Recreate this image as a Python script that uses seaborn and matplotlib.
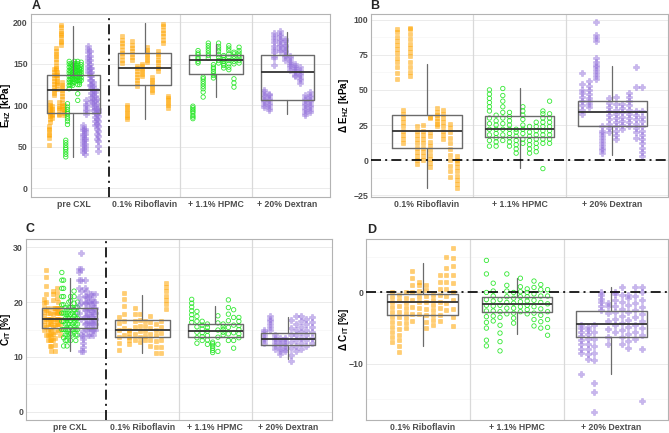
import numpy as np
import pandas as pd
import matplotlib
matplotlib.use("Agg")
import matplotlib.pyplot as plt
import seaborn as sns

# ---- data: one list per eye (strip) ----
groups_all = ["pre CXL", "0.1% Riboflavin", "+ 1.1% HPMC", "+ 20% Dextran"]
groups_delta = ["0.1% Riboflavin", "+ 1.1% HPMC", "+ 20% Dextran"]

# A: E_HZ [kPa]
a_pre_orange = [[52, 61, 64, 66, 70, 72, 75], [80, 83, 87, 90, 92, 95, 98, 101, 104],
                [85, 88, 90, 93, 96, 99], [112, 115, 119, 122, 126, 129, 133, 137, 140, 144],
                [137, 142, 145, 148, 152, 156, 159, 162, 166, 169], [120, 124, 127, 129, 133, 136, 140],
                [88, 90, 94, 97, 99, 104], [173, 176, 178, 182, 185, 187, 190, 194, 197],
                [96, 99, 103, 108, 111, 115, 118, 122, 125, 128], [88, 91, 93, 96, 100]]
a_pre_green = [[38, 41, 44, 47, 49, 52, 55, 58], [77, 81, 84, 87, 90, 92, 95, 98, 102],
               [120, 124, 128, 131, 135, 139, 142, 146, 150, 153], [125, 128, 132, 135, 138, 141, 144, 147, 150],
               [124, 127, 131, 134, 137, 140, 144, 148], [128, 131, 135, 138, 141, 144, 147, 150, 153],
               [130, 133, 136, 139, 142, 145, 148, 150], [106, 114, 125, 130, 134, 138, 142, 146, 150, 153],
               [125, 128, 131, 134, 137, 140, 143, 145], [130, 133, 137, 140, 143, 146, 149, 152]]
a_pre_purple = [[44, 48, 52, 56, 60, 63, 66, 70, 73, 76], [42, 46, 50, 54, 58, 61, 65, 69, 72],
                [90, 93, 96, 99, 102, 106], [140, 144, 148, 152, 156, 160, 164, 168, 171],
                [125, 130, 135, 139, 145, 150, 155, 160, 165], [105, 110, 115, 121, 125, 130, 135, 140, 145],
                [95, 99, 103, 107, 111, 115, 119, 124, 128], [76, 81, 86, 91, 96, 101, 106, 111, 116, 120],
                [60, 66, 72, 78, 84, 90, 96, 102, 108], [45, 51, 57, 63, 69, 75, 81, 87, 92, 96]]
a_ribo = [[151, 155, 159, 163, 167, 171, 175, 179, 184], [83, 86, 89, 92, 95, 98, 101],
          [155, 158, 162, 165, 169, 173, 177], [123, 127, 130, 134, 138, 141, 145, 148],
          [135, 138, 141, 144, 147, 150], [152, 155, 158, 161, 164, 167, 170],
          [116, 119, 122, 125, 128, 131, 134], [141, 145, 148, 152, 155, 159, 162, 166],
          [175, 179, 183, 187, 191, 195, 198], [97, 100, 103, 106, 109, 111]]
a_hpmc = [[84, 86, 88, 91, 93, 95, 97, 99], [151, 153, 156, 158, 161, 163, 166],
          [110, 116, 120, 123, 126, 129, 132, 134], [157, 160, 163, 166, 169, 172, 175],
          [133, 136, 138, 141, 144, 146, 149], [151, 154, 158, 161, 165, 168, 171, 175],
          [145, 148, 150, 153, 155, 158, 160], [143, 146, 150, 154, 158, 162, 166, 169, 172],
          [122, 127, 132, 150, 153, 156, 159, 162, 164], [151, 154, 157, 160, 163, 166, 170]]
a_dex = [[98, 101, 104, 107, 110, 113, 116, 118], [94, 97, 100, 103, 106, 109, 112, 114],
         [149, 157, 160, 164, 168, 172, 176, 180, 184, 187], [165, 168, 171, 174, 177, 180, 183, 186, 190],
         [155, 158, 161, 164, 167, 170, 173, 177, 180], [143, 146, 149, 151, 154, 157, 160],
         [135, 137, 140, 143, 145, 148, 150], [127, 130, 133, 136, 139, 142, 146],
         [88, 91, 94, 97, 100, 103, 106, 109, 112], [92, 95, 98, 101, 104, 107, 110, 113, 116]]
a_q1 = [91, 125, 138, 107]
a_med = [119, 145, 155, 140]
a_q3 = [136, 163, 161, 161]
a_lo = [38, 84, 110, 90]
a_hi = [195, 199, 174, 188]

# B: delta E_HZ [kPa]
b_ribo = [[58, 62, 66, 70, 73, 76, 79, 82, 85, 88, 91, 93], [12, 15, 18, 21, 24, 27, 30, 33, 36],
          [60, 63, 66, 70, 74, 77, 80, 83, 86, 90, 93, 94], [-3, 0, 3, 6, 9, 12, 15, 18, 21, 24],
          [0, 3, 6, 9, 12, 15, 18, 21, 25], [-5, -2, 1, 4, 7, 10, 13, 17, 20, 30, 31],
          [24, 26, 28, 30, 32, 34, 37], [15, 18, 21, 24, 27, 30, 33, 36],
          [-12, -8, -4, 0, 4, 8, 12, 16, 20, 23, 26], [-20, -17, -14, -11, -8, -5, -2, 0, 3]]
b_hpmc = [[10, 14, 18, 22, 26, 30, 35, 38, 41, 44, 47, 50], [10, 13, 16, 19, 22, 25, 28, 32],
          [14, 18, 22, 26, 30, 34, 38, 42, 46, 51], [10, 13, 16, 19, 22, 25, 28, 31, 34],
          [5, 8, 11, 14, 17, 20, 22], [12, 15, 19, 22, 25, 29, 32, 35, 38],
          [5, 8, 11, 14, 17, 20, 24], [6, 9, 12, 15, 18, 21, 24, 27],
          [-6, 12, 15, 18, 21, 24, 27, 30, 33, 35], [12, 15, 18, 21, 24, 27, 30, 33, 42]]
b_dex = [[33, 36, 39, 42, 45, 48, 50, 54, 62], [38, 40, 42, 44, 47, 50, 53, 56],
         [58, 60, 62, 64, 66, 68, 70, 73, 85, 87, 89, 98], [5, 7, 9, 11, 13, 15, 17, 19, 21, 24],
         [20, 23, 26, 29, 32, 35, 38, 41, 44], [15, 18, 21, 24, 27, 30, 33, 36, 40, 45],
         [22, 25, 28, 31, 34, 37, 40], [24, 27, 30, 33, 36, 39, 42, 45, 48],
         [16, 20, 23, 26, 29, 32, 35, 52, 66], [3, 6, 9, 12, 15, 18, 21, 24, 28, 31, 35, 52]]
b_q1 = [8.7, 16.5, 24.3]
b_med = [20.5, 22.4, 34.5]
b_q3 = [32.4, 31.7, 41.9]
b_lo = [-19.8, -5.3, 3.5]
b_hi = [68.7, 51.4, 66.8]

# C: C_IT [%]
c_pre_orange = [[15, 15.8, 16.6, 17.4, 18.2, 19, 19.8, 20.5], [14, 15.5, 17, 18.5, 20, 21.5, 23, 24.5, 25.8],
                [13, 14, 15, 16, 17, 18, 19], [12, 13, 14, 15, 16, 17, 18], [11, 12, 13, 14, 15, 16, 17],
                [13, 14.2, 15.4, 16.6, 17.8, 19, 20.3, 21.5, 22], [11, 12.2, 13.4, 14.6, 15.8, 17, 18.2, 19],
                [16, 17, 18, 19, 20.8, 21.7, 22.5], [15, 16, 17, 18, 19, 20], [14, 15, 16, 17, 18, 19]]
c_pre_green = [[15, 16.5, 18, 19.5, 21, 22.5, 24, 25.4], [12, 13.5, 15, 16.5, 18, 19.5, 21, 22.5, 24],
               [13, 14, 15, 16, 17, 18, 19], [12, 13, 14, 15, 16, 17, 18], [14, 15, 16, 17, 18, 19, 20],
               [13, 14.2, 15.4, 16.6, 17.8, 19, 20.2, 21], [14, 15, 16, 17, 18, 19],
               [15, 16.2, 17.4, 18.6, 19.8, 21, 22], [13, 14, 15, 16, 17, 18, 19], [14, 15, 16, 17, 18, 19, 20]]
c_pre_purple = [[18, 19.5, 21, 22.5, 24, 25.5, 26], [11, 14, 17, 20, 22, 24, 26, 29],
                [11.1, 11.8, 12.5, 13.2, 13.9, 14.7], [16, 17.3, 18.6, 19.9, 21.2, 22.5, 24],
                [15, 16.2, 17.4, 18.6, 19.8, 21, 22], [14, 15.2, 16.4, 17.6, 18.8, 20, 21],
                [14, 15.2, 16.4, 17.6, 18.8, 20, 21.5], [15, 16.1, 17.2, 18.3, 19.4, 20.5, 21.5],
                [14, 15, 16, 17, 18, 19, 20], [15, 16, 17, 18, 19, 20, 21.5]]
c_ribo = [[11.3, 12.5, 13.7, 14.9, 16.1, 17.3], [14, 15.3, 16.6, 17.9, 19.2, 20.5, 21.7],
          [12.3, 13, 13.7, 14.4, 15], [13, 14.2, 15.4, 16.6, 17.8, 19], [12.7, 13.7, 14.7, 15.7, 16.8, 17.8],
          [13, 13.8, 14.7, 15.6, 16.5], [12, 13.1, 14.2, 15.3, 16.4, 17.5], [10.7, 11.8, 12.9, 14, 15, 16],
          [10.7, 11.9, 13.1, 14.3, 15.5, 16.5], [18.8, 19.6, 20.4, 21.2, 22, 22.7, 23.4]]
c_hpmc = [[16.3, 17, 17.7, 18.4, 19.1, 19.8, 20.5], [12.5, 13.5, 14.5, 15.5, 16.5, 17.4, 18.3],
          [13, 13.7, 14.4, 15.1, 15.8, 16.5], [12.3, 13.1, 13.9, 14.7, 15.4, 16],
          [10.8, 11.2, 11.6, 12, 12.4, 12.7], [11, 12.3, 13.6, 14.9, 16.2, 17.5], [14, 14.5, 15, 15.5, 16],
          [13, 14.2, 15.4, 16.6, 17.8, 19, 20.4], [11.6, 13, 14.4, 15.8, 17.2, 18.6],
          [13.5, 14.2, 15, 15.7, 16.5, 17.2]]
c_dex = [[12.5, 13, 13.5, 14, 14.5, 15], [15, 15.5, 16, 16.5, 17, 17.4], [11.5, 12, 12.5, 13, 13.5, 14],
         [10.5, 11.1, 11.7, 12.3, 12.9, 13.5], [11, 11.5, 12, 12.5, 13, 13.5],
         [9.2, 10.4, 11.6, 12.8, 14, 15.2, 16.8], [11, 12, 13, 14, 15, 16, 17.5],
         [11.5, 12.5, 13.5, 14.5, 15.5, 16.5, 17.5], [12, 13, 14, 15, 16, 17], [12.5, 13.5, 14.5, 15.5, 16.4, 17.3]]
c_q1 = [15.2, 13.7, 13.6, 12.2]
c_med = [17.0, 14.9, 14.8, 13.25]
c_q3 = [19.0, 16.8, 16.0, 14.3]
c_lo = [11.1, 10.8, 13.6, 9.6]
c_hi = [24.4, 21.3, 19.2, 17.2]

# D: delta C_IT [%]
d_ribo = [[-7, -6.3, -5.6, -4.9, -4.2, -3.5, -2.8, -2.1, -1.4, -0.7, 0],
          [-8.3, -7.5, -6.7, -5.9, -5.1, -4.3, -3.5, -2.7, -1.9, -1.1, -0.3],
          [-5, -4.3, -3.6, -2.9, -2.2, -1.5, -0.8, 0], [-4, -3, -2, -1, 0, 1, 2, 3],
          [-3, -2.2, -1.4, -0.6, 0.2, 1, 1.5], [-5, -4.1, -3.2, -2.3, -1.4, -0.5, 0.4, 1],
          [-4.5, -3.8, -3.1, -2.4, -1.7, -1, -0.3], [-4, -3.1, -2.2, -1.3, -0.4, 0.5, 1.4, 2.5],
          [-2.5, -1.5, -0.5, 0.5, 1.5, 2.5, 3.5, 5], [-4.7, -3.5, -2.3, -1.1, 0.1, 1.3, 2.5, 3.7, 4.9, 6.3]]
d_hpmc = [[-7.5, -6.7, -5, -4.2, -3.4, -2.6, -1.8, -1, 0, 2.6, 4.5], [-4, -3.3, -2.6, -1.9, -1.2, -0.5, 0.2, 1.3],
          [-8.2, -6.9, -5.7, -4.6, -3.5, -2.7, -1.8, -1], [-3, -2.2, -1.4, -0.6, 0.2, 1, 2.6],
          [-4.3, -3.6, -2.9, -2.2, -1.5, -0.8, 0], [-2.7, -2, -1.3, -0.6, 0.1, 0.8, 2],
          [-3, -2.4, -1.8, -1.2, -0.6, 0, 0.5], [-4.7, -3.8, -2.9, -2, -1.1, -0.2, 0.7, 1.6],
          [-5, -4.1, -3.2, -2.3, -1.4, -0.5, 0.4, 1.1], [-6, -4.9, -3.8, -2.7, -1.6, -0.5, 0.4]]
d_dex = [[-11.4, -8.5, -7.9, -7.3, -6.7, -6.1, -5.5, -5, -4.5], [-9.3, -8.6, -7.9, -7.2, -6.5, -5.8, -5.2, -4.8],
         [-16.8, -14, -12.7, -9.5, -8.5, -7.5, -6.5, -5.5, -4.5], [-2.4, -1.9, -1.4, -0.9, -0.4, 0.1],
         [-7.3, -6.2, -5.1, -4, -2.9, -1.9, -1.5], [-5.5, -4.6, -3.7, -2.8, -1.9, -1, -0.2, 0.1],
         [-7.3, -6.3, -5.3, -4.3, -3.3, -2.3, -1.3, -0.3, 0.8], [-7.8, -6.8, -5.8, -4.8, -3.8, -2.8, -1.8, -0.8, -0.4],
         [-6.5, -5.5, -4.5, -3.5, -2.5, -1.5, -0.5, 0.8], [-15.2, -8, -6, -5, -4, -3, -2, -1, 0, 0.7]]
d_q1 = [-3.2, -2.8, -6.3]
d_med = [-1.3, -1.6, -4.4]
d_q3 = [-0.2, -0.6, -2.6]
d_lo = [-7.5, -5.8, -11.5]
d_hi = [4.1, 2.0, 0.8]

# ---- styling ----
ORANGE, GREEN, PURPLE = "#FFA500", "#1EE61E", "#9370DB"
STYLE = {
    "orange": dict(marker="s", color=ORANGE, alpha=0.55, s=9),
    "green": dict(marker="o", color=GREEN, alpha=0.9, s=10),
    "purple": dict(marker="P", color=PURPLE, alpha=0.5, s=13),
}
DASHDOT = (0, (6, 2.5, 1.2, 2.5))

sns.set_theme(style="white")
plt.rcParams["font.family"] = ["Liberation Sans", "DejaVu Sans"]
plt.rcParams["mathtext.fontset"] = "custom"
plt.rcParams["mathtext.rm"] = "Liberation Sans:bold"
plt.rcParams["mathtext.bf"] = "Liberation Sans:bold"


def strip_frame(group_strips):
    # group_strips: list (per group) of list of (kind, strips)
    rows = []
    for gi, parts in enumerate(group_strips):
        flat = [(kind, s) for kind, strips in parts for s in strips]
        n = len(flat)
        step = 0.72 / n
        for si, (kind, vals) in enumerate(flat):
            xpos = gi + (si - (n - 1) / 2) * step
            for v in vals:
                rows.append({"x": xpos, "value": v, "kind": kind})
    return pd.DataFrame(rows)


def draw_panel(ax, group_strips, labels, q1, med, q3, lo, hi, ylim, major, minor, ylabel, pre_sep, label_x):
    df = strip_frame(group_strips)
    for kind in ["orange", "green", "purple"]:
        sub = df[df["kind"] == kind]
        if sub.empty:
            continue
        st = STYLE[kind]
        sns.scatterplot(data=sub, x="x", y="value", ax=ax, marker=st["marker"], color=st["color"],
                        alpha=st["alpha"], s=st["s"], linewidth=0.4, legend=False, zorder=2)
        coll = ax.collections[-1]
        if kind == "green":
            coll.set_facecolor("none")
            coll.set_edgecolor(GREEN)
            coll.set_linewidth(0.6)
        else:
            coll.set_edgecolor(st["color"])

    stats = [dict(q1=a, med=m, q3=b, whislo=l, whishi=h, fliers=[]) for a, m, b, l, h in zip(q1, med, q3, lo, hi)]
    ax.bxp(stats, positions=list(range(len(stats))), widths=0.75, showcaps=False, showfliers=False,
           manage_ticks=False, zorder=3,
           boxprops=dict(color="#6b6b6b", linewidth=1.0),
           whiskerprops=dict(color="#6b6b6b", linewidth=0.9),
           medianprops=dict(color="#333333", linewidth=1.3))

    n = len(labels)
    for b in range(n - 1):
        xb = b + 0.5
        if pre_sep and b == 0:
            ax.axvline(xb, color="black", lw=1.2, ls=DASHDOT, zorder=4)
        else:
            ax.axvline(xb, color="#d9d9d9", lw=0.9, zorder=1)
    if not pre_sep:
        ax.axhline(0, color="black", lw=1.2, ls=DASHDOT, zorder=4)

    ax.set_xlim(-0.6, n - 0.4)
    ax.set_ylim(*ylim)
    ax.set_xticks(range(n))
    ax.set_xticklabels(labels)
    ax.set_yticks(major)
    ax.set_yticks(minor, minor=True)
    ax.grid(axis="y", which="major", color="#e8e8e8", lw=0.6, zorder=0)
    ax.grid(axis="y", which="minor", color="#f3f3f3", lw=0.4, zorder=0)
    ax.grid(axis="x", visible=False)
    ax.set_axisbelow(True)
    ax.set_xlabel("")
    ax.set_ylabel(ylabel, fontsize=7.2, fontweight="bold", color="black")
    ax.yaxis.set_label_coords(label_x, 0.5)
    ax.tick_params(axis="both", which="major", length=1.5, width=0.6, color="#b3b3b3",
                   labelsize=6.3, labelcolor="#4d4d4d", pad=0.6)
    ax.tick_params(axis="both", which="minor", length=0)
    for lab in ax.get_xticklabels() + ax.get_yticklabels():
        lab.set_fontweight("bold")
    for sp in ax.spines.values():
        sp.set_visible(True)
        sp.set_color("#b3b3b3")
        sp.set_linewidth(0.8)


fig = plt.figure(figsize=(6.69, 4.33), dpi=100)
ax_a = fig.add_axes([0.0459, 0.5457, 0.4474, 0.4219])
ax_b = fig.add_axes([0.5546, 0.5457, 0.4439, 0.4219])
ax_c = fig.add_axes([0.0389, 0.0300, 0.4570, 0.4180])
ax_d = fig.add_axes([0.5471, 0.0300, 0.4514, 0.4180])

draw_panel(ax_a,
           [[("orange", a_pre_orange), ("green", a_pre_green), ("purple", a_pre_purple)],
            [("orange", a_ribo)], [("green", a_hpmc)], [("purple", a_dex)]],
           groups_all, a_q1, a_med, a_q3, a_lo, a_hi, (-10, 210),
           [0, 50, 100, 150, 200], [25, 75, 125, 175], r"E$_{\rm HZ}$ [kPa]", True, -0.060)
draw_panel(ax_b, [[("orange", b_ribo)], [("green", b_hpmc)], [("purple", b_dex)]],
           groups_delta, b_q1, b_med, b_q3, b_lo, b_hi, (-26, 104),
           [-25, 0, 25, 50, 75, 100], [-12.5, 12.5, 37.5, 62.5, 87.5], r"Δ E$_{\rm HZ}$ [kPa]", False, -0.067)
draw_panel(ax_c,
           [[("orange", c_pre_orange), ("green", c_pre_green), ("purple", c_pre_purple)],
            [("orange", c_ribo)], [("green", c_hpmc)], [("purple", c_dex)]],
           groups_all, c_q1, c_med, c_q3, c_lo, c_hi, (-1.5, 31.5),
           [0, 10, 20, 30], [5, 15, 25], r"C$_{\rm IT}$ [%]", True, -0.044)
draw_panel(ax_d, [[("orange", d_ribo)], [("green", d_hpmc)], [("purple", d_dex)]],
           groups_delta, d_q1, d_med, d_q3, d_lo, d_hi, (-17.9, 7.5),
           [-10, 0], [-15, -5, 5], r"Δ C$_{\rm IT}$ [%]", False, -0.050)

for txt, x, y in [("A", 32, 6), ("B", 370, 6), ("C", 25, 229), ("D", 367, 230)]:
    fig.text(x / 669, 1 - y / 433, txt, fontsize=9, fontweight="bold", ha="left", va="center")

fig.savefig("out.png", dpi=100)
